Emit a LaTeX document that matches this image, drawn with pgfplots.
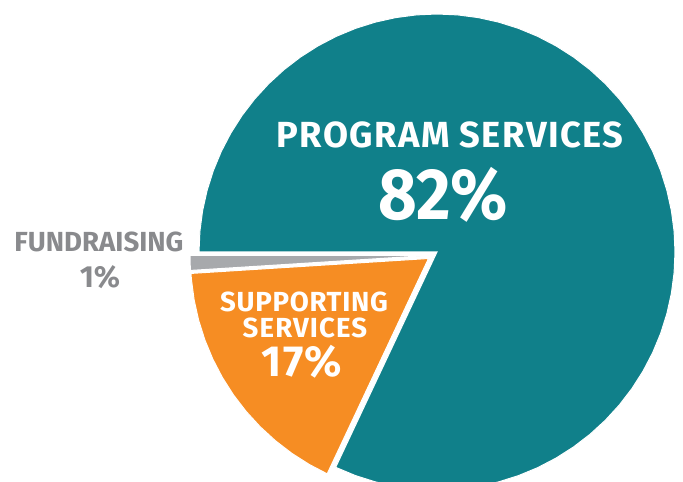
\documentclass[border=0pt]{standalone}
\usepackage{pgfplots}
\pgfplotsset{compat=1.18}
\usepackage{pgfplotstable}
\usepackage{fontspec}
\setmainfont{Fira Sans}
\definecolor{teal}{HTML}{10808A}
\definecolor{orng}{HTML}{F68D23}
\definecolor{gry}{HTML}{A7A9AC}
\definecolor{txtgry}{HTML}{898A8D}
% slice outlines: angle a (deg), radius r (px); share of each slice: 82, 17, 1
\pgfplotstableread[row sep=\\]{
a r\\
0 0\\ -115.2 238\\ -110 238\\ -105 238\\ -100 238\\ -95 238\\ -90 238\\ -85 238\\ -80 238\\ -75 238\\ -70 238\\ -65 238\\ -60 238\\ -55 238\\ -50 238\\ -45 238\\ -40 238\\ -35 238\\ -30 238\\ -25 238\\ -20 238\\ -15 238\\ -10 238\\ -5 238\\ 0 238\\ 5 238\\ 10 238\\ 15 238\\ 20 238\\ 25 238\\ 30 238\\ 35 238\\ 40 238\\ 45 238\\ 50 238\\ 55 238\\ 60 238\\ 65 238\\ 70 238\\ 75 238\\ 80 238\\ 85 238\\ 90 238\\ 95 238\\ 100 238\\ 105 238\\ 110 238\\ 115 238\\ 120 238\\ 125 238\\ 130 238\\ 135 238\\ 140 238\\ 145 238\\ 150 238\\ 155 238\\ 160 238\\ 165 238\\ 170 238\\ 175 238\\ 180 238\\
}\program
\pgfplotstableread[row sep=\\]{
a r\\
0 0\\ 183.6 238\\ 185 238\\ 190 238\\ 195 238\\ 200 238\\ 205 238\\ 210 238\\ 215 238\\ 220 238\\ 225 238\\ 230 238\\ 235 238\\ 240 238\\ 244.8 238\\
}\support
\pgfplotstableread[row sep=\\]{
a r\\
0 0\\ 180 238\\ 181.8 238\\ 183.6 238\\
}\fund
\begin{document}
\begin{tikzpicture}
\useasboundingbox (0,0) rectangle (683pt,482pt);
\begin{axis}[at={(0,0)}, anchor=south west, scale only axis,
  width=683pt, height=482pt, xmin=0, xmax=683, ymin=0, ymax=482,
  hide axis, clip=true]
\addplot[fill=teal, draw=white, line width=1pt] table[x expr={437+\thisrow{r}*cos(\thisrow{a})}, y expr={230+\thisrow{r}*sin(\thisrow{a})}] {\program} -- cycle;
\addplot[fill=gry, draw=white, line width=1pt] table[x expr={428+\thisrow{r}*cos(\thisrow{a})}, y expr={226.5+\thisrow{r}*sin(\thisrow{a})}] {\fund} -- cycle;
\addplot[fill=orng, draw=white, line width=1pt] table[x expr={428.5+\thisrow{r}*cos(\thisrow{a})}, y expr={223.5+\thisrow{r}*sin(\thisrow{a})}] {\support} -- cycle;
\node[anchor=base, inner sep=0, text=white, font=\fontsize{36.3}{40}\selectfont\bfseries\addfontfeature{LetterSpace=4}] at (axis cs:450,334) {PROGRAM SERVICES};
\node[anchor=base, inner sep=0, text=white, font=\fontsize{72.5}{80}\selectfont\bfseries] at (axis cs:443,262) {\scalebox{0.92}[1]{82\%}};
\node[anchor=base, inner sep=0, text=txtgry, font=\fontsize{27.6}{30}\selectfont\bfseries] at (axis cs:99,230.3) {FUNDRAISING};
\node[anchor=base, inner sep=0, text=txtgry, font=\fontsize{30.5}{34}\selectfont\bfseries] at (axis cs:100,194) {1\%};
\node[anchor=base, inner sep=0, text=white, font=\fontsize{27.6}{30}\selectfont\bfseries\addfontfeature{LetterSpace=2.5}] at (axis cs:304,170) {SUPPORTING};
\node[anchor=base, inner sep=0, text=white, font=\fontsize{27.6}{30}\selectfont\bfseries\addfontfeature{LetterSpace=4}] at (axis cs:305,144) {SERVICES};
\node[anchor=base, inner sep=0, text=white, font=\fontsize{43.5}{48}\selectfont\bfseries\addfontfeature{LetterSpace=2}] at (axis cs:302,105) {17\%};
\end{axis}
\end{tikzpicture}
\end{document}
